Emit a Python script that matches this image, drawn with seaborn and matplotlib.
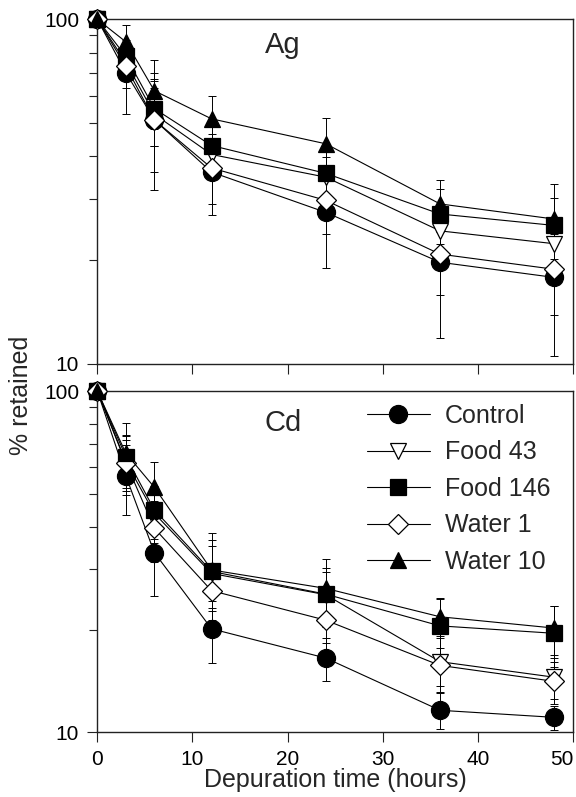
import numpy as np
import pandas as pd
import matplotlib
matplotlib.use("Agg")
import matplotlib.pyplot as plt
import seaborn as sns
from matplotlib.ticker import LogLocator, NullFormatter, NullLocator, FixedLocator, FixedFormatter

# ---------------- data ----------------
time_h = [0, 3, 6, 12, 24, 36, 48]
series_names = ["Control", "Food 43", "Food 146", "Water 1", "Water 10"]

# Ag panel (% retained)
ag_control = [100, 70, 51, 36, 27.5, 19.7, 17.8]
ag_food43 = [100, 75, 53, 40.5, 34.8, 24.3, 22.3]
ag_food146 = [100, 78, 55, 43, 35.7, 27.2, 25.2]
ag_water1 = [100, 73, 51, 37, 29.8, 20.8, 18.8]
ag_water10 = [100, 86, 62, 51.4, 43.5, 29.1, 26.3]

ag_control_sd = [0, 17, 19, 9, 8.5, 7.8, 7.3]
ag_food43_sd = [0, 8, 10, 6, 5, 4, 4]
ag_food146_sd = [0, 8, 12, 7, 6, 5, 5]
ag_water1_sd = [0, 10, 15, 8, 6, 5, 5]
ag_water10_sd = [0, 10, 14, 8.4, 8.3, 5, 7]

# Cd panel (% retained)
cd_control = [100, 56.4, 33.6, 20.1, 16.5, 11.6, 11.06]
cd_food43 = [100, 62, 43.8, 29.2, 25.3, 16.1, 14.5]
cd_food146 = [100, 64.2, 44.8, 29.6, 25.4, 20.5, 19.5]
cd_water1 = [100, 61.6, 39.6, 26.0, 21.3, 15.7, 14.1]
cd_water10 = [100, 65.7, 52.2, 29.9, 26.4, 21.8, 20.2]

cd_control_sd = [0, 13, 8.5, 4.1, 2.4, 1.4, 0.9]
cd_food43_sd = [0, 10, 8, 6, 5, 3, 2]
cd_food146_sd = [0, 10, 8, 7, 4, 4, 4]
cd_water1_sd = [0, 12, 8, 5, 3, 2, 2]
cd_water10_sd = [0, 14.7, 9.8, 8.5, 5.7, 2.9, 3.3]

ag_values = [ag_control, ag_food43, ag_food146, ag_water1, ag_water10]
ag_sds = [ag_control_sd, ag_food43_sd, ag_food146_sd, ag_water1_sd, ag_water10_sd]
cd_values = [cd_control, cd_food43, cd_food146, cd_water1, cd_water10]
cd_sds = [cd_control_sd, cd_food43_sd, cd_food146_sd, cd_water1_sd, cd_water10_sd]

y_ticks = [10, 100]
y_tick_labels = ["10", "100"]
x_ticks = [0, 10, 20, 30, 40, 50]
x_tick_labels = ["0", "10", "20", "30", "40", "50"]

# ---------------- style ----------------
sns.set_theme(style="ticks")
plt.rcParams["font.family"] = ["Liberation Sans", "DejaVu Sans"]

markers = ["o", "v", "s", "D", "^"]
facecolors = ["black", "white", "black", "white", "black"]
msizes = [13, 12, 11, 10, 12]

fig = plt.figure(figsize=(5.76, 7.97), dpi=100)
ax_top = fig.add_axes([0.1689, 0.5437, 0.8264, 0.4321])
ax_bot = fig.add_axes([0.1689, 0.0812, 0.8264, 0.4282])


def draw_panel(ax, values, sds, with_label):
    for i, (name, vals, sd) in enumerate(zip(series_names, values, sds)):
        ax.errorbar(time_h[1:], vals[1:], yerr=sd[1:], fmt="none", ecolor="black",
                    elinewidth=0.7, capsize=3, capthick=0.7, zorder=1, clip_on=False)
        df = pd.DataFrame({"time": time_h, "retained": vals})
        kws = dict(label=name) if with_label else {}
        sns.lineplot(data=df, x="time", y="retained", ax=ax, color="black",
                     linewidth=0.8, marker=markers[i], markersize=msizes[i],
                     markerfacecolor=facecolors[i], markeredgecolor="black",
                     markeredgewidth=0.9, clip_on=False, zorder=2 + i,
                     errorbar=None, **kws)
    ax.set_yscale("log")
    ax.set_ylim(10, 100)
    ax.set_xlim(0, 50)
    ax.yaxis.set_major_locator(FixedLocator(y_ticks))
    ax.yaxis.set_major_formatter(FixedFormatter(y_tick_labels))
    ax.yaxis.set_minor_locator(LogLocator(base=10, subs=np.arange(2, 10), numticks=20))
    ax.yaxis.set_minor_formatter(NullFormatter())
    ax.xaxis.set_major_locator(FixedLocator(x_ticks))
    ax.xaxis.set_major_formatter(FixedFormatter(x_tick_labels))
    ax.xaxis.set_minor_locator(NullLocator())
    ax.set_xlabel("")
    ax.set_ylabel("")
    for sp in ax.spines.values():
        sp.set_visible(True)
        sp.set_linewidth(1.0)
        sp.set_color("#222222")
    ax.tick_params(which="major", direction="out", length=7, width=0.8,
                   labelsize=15, pad=6, colors="#222222", labelcolor="black")
    ax.tick_params(which="minor", direction="out", length=6, width=0.8, colors="#222222")
    ax.tick_params(top=False, right=False)


draw_panel(ax_top, ag_values, ag_sds, False)
draw_panel(ax_bot, cd_values, cd_sds, True)

ax_top.tick_params(labelbottom=False)
if ax_top.get_legend() is not None:
    ax_top.get_legend().remove()

# keep the last x tick label inside the figure
fig.canvas.draw()
ax_bot.get_xticklabels()[-1].set_horizontalalignment("right")

ax_top.text(0.39, 0.925, "Ag", transform=ax_top.transAxes, ha="center", va="center", fontsize=21)
ax_bot.text(0.39, 0.906, "Cd", transform=ax_bot.transAxes, ha="center", va="center", fontsize=21)

ax_bot.legend(loc="upper left", bbox_to_anchor=(0.567, 0.962), frameon=False,
              fontsize=18, handlelength=2.5, handletextpad=0.6, labelspacing=0.5,
              borderpad=0, borderaxespad=0)

fig.text(335 / 576, 1 - 780 / 797, "Depuration time (hours)", ha="center", va="center", fontsize=18)
fig.text(21 / 576, 1 - 395 / 797, "% retained", ha="center", va="center", fontsize=18, rotation=90)

fig.savefig("out.png", dpi=100)
